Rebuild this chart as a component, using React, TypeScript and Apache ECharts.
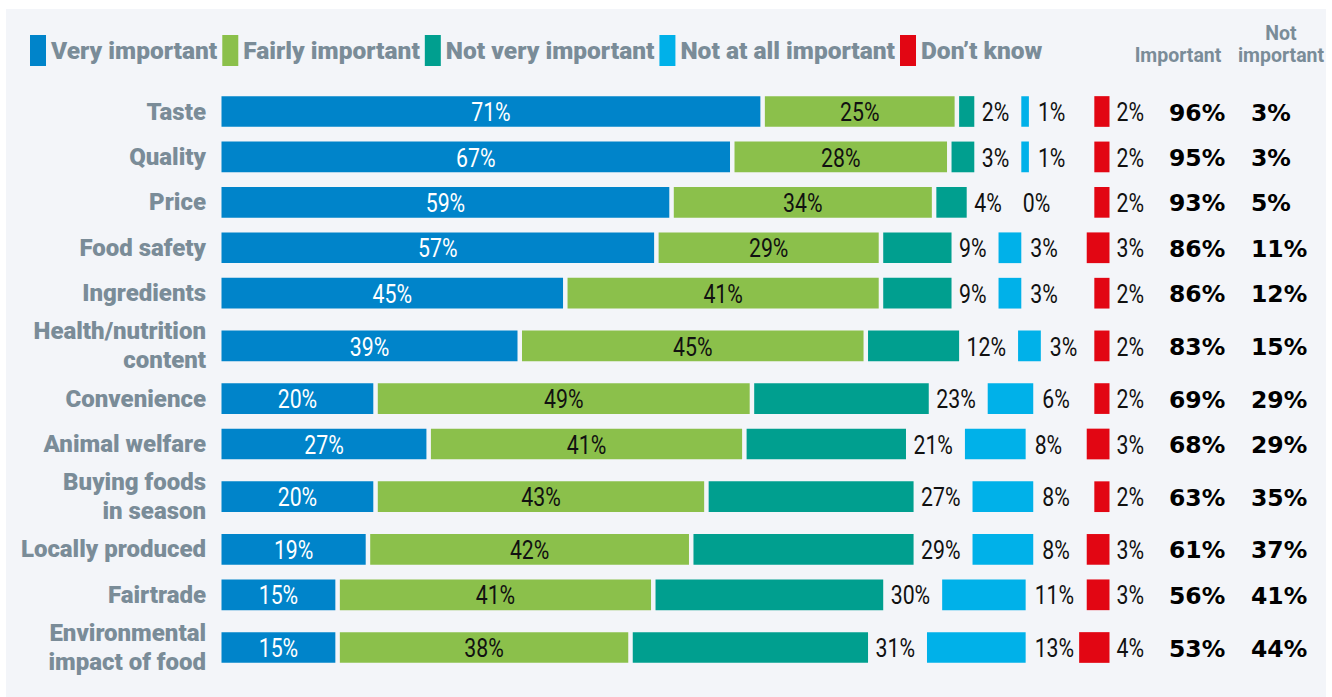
import React, { useEffect, useRef } from 'react';
import * as echarts from 'echarts';

// ---- data ----
const categories = [
  'Taste',
  'Quality',
  'Price',
  'Food safety',
  'Ingredients',
  'Health/nutrition\ncontent',
  'Convenience',
  'Animal welfare',
  'Buying foods\nin season',
  'Locally produced',
  'Fairtrade',
  'Environmental\nimpact of food',
];
const veryImportant = [71, 67, 59, 57, 45, 39, 20, 27, 20, 19, 15, 15];
const fairlyImportant = [25, 28, 34, 29, 41, 45, 49, 41, 43, 42, 41, 38];
const notVeryImportant = [2, 3, 4, 9, 9, 12, 23, 21, 27, 29, 30, 31];
const notAtAllImportant = [1, 1, 0, 3, 3, 3, 6, 8, 8, 8, 11, 13];
const dontKnow = [2, 2, 2, 3, 2, 2, 2, 3, 2, 3, 3, 4];
const importantTotal = [96, 95, 93, 86, 86, 83, 69, 68, 63, 61, 56, 53];
const notImportantTotal = [3, 3, 5, 11, 12, 15, 29, 29, 35, 37, 41, 44];
const seriesNames = ['Very important', 'Fairly important', 'Not very important', 'Not at all important', 'Don\u2019t know'];
const headerImportant = 'Important';
const headerNotImportant = 'Not\nimportant';

// ---- styling / layout ----
const colors = ['#0084ca', '#8bc04b', '#009f8f', '#00b1e9', '#e20613'];
const catColor = '#7a8c98';
const X_MAX = 117;
const BAR_UNITS = 0.676;
const SEG_GAP = 4.5;
const VAL_FONT = 25;
const VAL_SCALE = 0.85;

const valueArrays = [veryImportant, fairlyImportant, notVeryImportant, notAtAllImportant, dontKnow];

// row positions on the (value) y axis: two-line labels get taller rows
const rowUnits = categories.map((c) => (c.split('\n').length > 1 ? 1.32 : 1));
const rowPos: number[] = [];
rowUnits.forEach((h, i) => {
  rowPos.push(i === 0 ? 0 : rowPos[i - 1] + (rowUnits[i - 1] + h) / 2);
});
const Y_MAX = rowPos[rowPos.length - 1];

let measureCtx: CanvasRenderingContext2D | null = null;
function valueLabelWidth(t: string) {
  if (!measureCtx) measureCtx = document.createElement('canvas').getContext('2d');
  if (!measureCtx) return t.length * 13;
  measureCtx.font = `${VAL_FONT}px Roboto`;
  return measureCtx.measureText(t).width * VAL_SCALE;
}

function rowLayout(i: number, api: any) {
  const pos = rowPos[i];
  const p0 = api.coord([0, pos]);
  const x0 = p0[0];
  const yc = p0[1];
  const xEnd = api.coord([X_MAX, pos])[0];
  const px = (v: number) => api.size([v, 0])[0];
  const h = api.size([0, BAR_UNITS])[1];
  const segs: any[] = [];
  const w0 = px(veryImportant[i]);
  segs.push({ x: x0, w: w0, lx: x0 + w0 / 2, align: 'center', fill: '#ffffff' });
  const x1 = x0 + w0 + SEG_GAP;
  const w1 = px(fairlyImportant[i]);
  segs.push({ x: x1, w: w1, lx: x1 + w1 / 2, align: 'center', fill: '#111111' });
  const x2 = x1 + w1 + SEG_GAP;
  const w2 = px(notVeryImportant[i]);
  const l2 = x2 + w2 + 7.5;
  segs.push({ x: x2, w: w2, lx: l2, align: 'left', fill: '#111111' });
  const x3 = l2 + valueLabelWidth(notVeryImportant[i] + '%') + 12;
  const w3 = px(notAtAllImportant[i]);
  segs.push({ x: x3, w: w3, lx: x3 + w3 + 9, align: 'left', fill: '#111111' });
  const w4 = px(dontKnow[i]);
  segs.push({ x: xEnd - w4, w: w4, lx: xEnd + 7, align: 'left', fill: '#111111' });
  return { segs, yc, h };
}

function valueText(x: number, y: number, text: string, align: string, fill: string) {
  return {
    type: 'text',
    x,
    y,
    scaleX: VAL_SCALE,
    style: {
      text,
      x: 0,
      y: 0,
      align,
      textAlign: align,
      verticalAlign: 'middle',
      textVerticalAlign: 'middle',
      fontSize: VAL_FONT,
      fontFamily: 'Roboto',
      fill,
    },
  };
}

function makeSegmentRender(k: number) {
  return (params: any, api: any) => {
    const i = api.value(0);
    const { segs, yc, h } = rowLayout(i, api);
    const s = segs[k];
    const v = valueArrays[k][i];
    const children: any[] = [];
    if (v > 0) {
      children.push({
        type: 'rect',
        shape: { x: s.x, y: yc - h / 2, width: s.w, height: h },
        style: { fill: colors[k] },
      });
    }
    children.push(valueText(s.lx, yc + 1, v + '%', s.align, s.fill));
    return { type: 'group', children };
  };
}

function renderLabels(params: any, api: any) {
  const i = api.value(0);
  const pos = rowPos[i];
  const p = api.coord([0, pos]);
  const x0 = p[0];
  const yc = p[1];
  const xEnd = api.coord([X_MAX, pos])[0];
  return {
    type: 'group',
    children: [
      {
        type: 'text',
        x: x0 - 15.5,
        y: yc,
        style: {
          text: categories[i],
          align: 'right',
          textAlign: 'right',
          verticalAlign: 'middle',
          textVerticalAlign: 'middle',
          fontSize: 24,
          fontWeight: 900,
          fontFamily: 'Roboto',
          lineHeight: 29,
          fill: catColor,
        },
      },
      {
        type: 'text',
        x: xEnd + 59.5,
        y: yc + 1,
        style: {
          text: importantTotal[i] + '%',
          align: 'left',
          textAlign: 'left',
          verticalAlign: 'middle',
          textVerticalAlign: 'middle',
          fontSize: 23.5,
          fontWeight: 'bold',
          fontFamily: 'DejaVu Sans',
          fill: '#000000',
        },
      },
      {
        type: 'text',
        x: xEnd + 141.5,
        y: yc + 1,
        style: {
          text: notImportantTotal[i] + '%',
          align: 'left',
          textAlign: 'left',
          verticalAlign: 'middle',
          textVerticalAlign: 'middle',
          fontSize: 23.5,
          fontWeight: 'bold',
          fontFamily: 'DejaVu Sans',
          fill: '#000000',
        },
      },
    ],
  };
}

export default function App() {
  const ref = useRef<HTMLDivElement>(null);
  useEffect(() => {
    if (!ref.current) return;
    const chart = echarts.init(ref.current, undefined, { renderer: 'svg' });
    const rowData = rowPos.map((p, i) => [i, p]);
    const headerStyle = {
      align: 'center',
      textAlign: 'center',
      verticalAlign: 'middle',
      textVerticalAlign: 'middle',
      fontSize: 19.5,
      fontWeight: 'bold',
      fontFamily: 'Roboto',
      lineHeight: 22,
      fill: catColor,
    };
    chart.setOption({
      animation: false,
      backgroundColor: '#ffffff',
      grid: {
        left: 221.5,
        top: 111.5,
        width: 888,
        height: 536,
        containLabel: false,
        outerBoundsMode: 'none',
      },
      xAxis: { type: 'value', min: 0, max: X_MAX, show: false },
      yAxis: { type: 'value', min: 0, max: Y_MAX, inverse: true, show: false },
      legend: {
        data: seriesNames.map((n, k) => ({ name: n, itemStyle: { color: colors[k] } })),
        left: 30,
        top: 35,
        padding: 0,
        icon: 'rect',
        itemWidth: 16,
        itemHeight: 31,
        itemGap: 5,
        selectedMode: false,
        textStyle: {
          fontSize: 24.5,
          fontWeight: 900,
          fontFamily: 'Roboto',
          color: catColor,
        },
      },
      graphic: [
        {
          type: 'rect',
          z: -10,
          silent: true,
          shape: { x: 6, y: 9, width: 1320, height: 688 },
          style: { fill: '#f3f5f9' },
        },
        { type: 'text', x: 1178, y: 55, style: { ...headerStyle, text: headerImportant } },
        { type: 'text', x: 1281, y: 44, style: { ...headerStyle, text: headerNotImportant } },
      ],
      series: [
        ...seriesNames.map((n, k) => ({
          type: 'custom',
          name: n,
          clip: false,
          itemStyle: { color: colors[k] },
          encode: { x: 0, y: 1 },
          data: rowData,
          renderItem: makeSegmentRender(k),
        })),
        {
          type: 'custom',
          name: 'labels',
          clip: false,
          encode: { x: 0, y: 1 },
          data: rowData,
          renderItem: renderLabels,
        },
      ],
    });
    return () => chart.dispose();
  }, []);
  return (
    <div
      ref={ref}
      style={{ position: 'fixed', left: 0, top: 0, width: 1332, height: 697 }}
    />
  );
}
